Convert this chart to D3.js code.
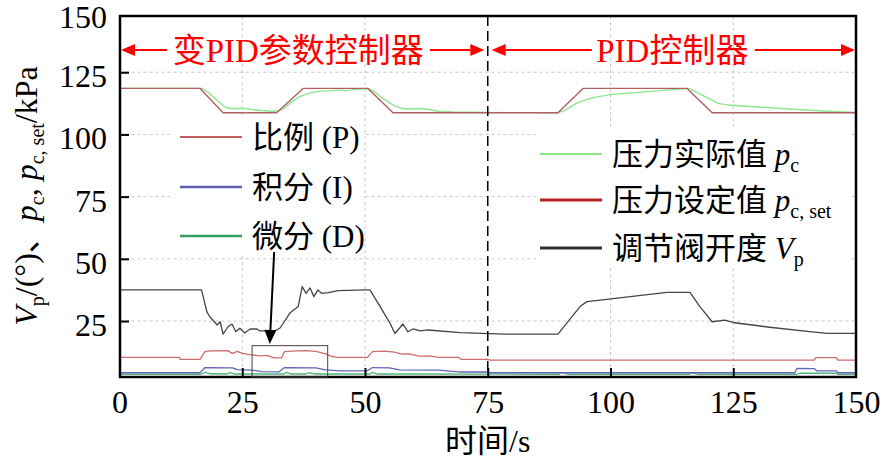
<!DOCTYPE html>
<html><head><meta charset="utf-8">
<script src="https://cdn.jsdelivr.net/npm/d3@7"></script>
<style>
html,body{margin:0;padding:0;background:#fff;}
svg{display:block;}
text{font-family:'Liberation Serif','Times New Roman','Noto Sans CJK SC',serif;}
</style></head>
<body><svg id="c" width="886" height="471"></svg>
<script>
// ---------- data ----------
const xTickVals = [0, 25, 50, 75, 100, 125, 150];
const yTickVals = [25, 50, 75, 100, 125, 150];
const xGrid = [25, 50, 100, 125];
const yGrid = [25, 50, 75, 100, 125];

const setT = [0, 16.4, 21.1, 32.0, 37.4, 50.6, 55.7, 89.3, 94.4, 115.6, 120.7, 150];
const setV = [118.5, 118.5, 108.7, 108.7, 118.5, 118.5, 108.7, 108.7, 118.5, 118.5, 108.7, 108.7];

const pcT = [0, 16.8, 18, 20, 21.5, 23, 25, 27, 29, 31, 32.5, 33.5, 35, 36.5, 38, 39.5, 41, 43, 45, 46, 48, 50.8, 52, 54, 56, 57.5, 59, 61, 63, 65, 68, 75, 89.3, 91, 93, 95, 97, 100, 105, 110, 114, 116, 118, 120, 122, 124, 130, 138, 145, 150];
const pcV = [118.5, 118.5, 117, 113.5, 111, 110.3, 110.5, 110, 109.6, 109.3, 109.5, 110.5, 113, 115, 116.2, 117, 117.4, 117.6, 117.9, 117.5, 118.1, 118.4, 117, 114, 111.5, 110.5, 110.2, 110.4, 110, 109.3, 109, 108.8, 108.7, 110, 112.5, 114, 115, 116, 116.8, 117.6, 118.2, 118.5, 116.5, 114.5, 112.5, 111.8, 111, 110, 109.2, 108.8];

const vpT = [0, 16.7, 17.8, 18.4, 19.0, 19.9, 20.5, 21.1, 22.1, 22.9, 23.7, 24.5, 25.5, 26.6, 28.0, 28.6, 31.7, 32.7, 34.7, 36.4, 37.2, 38.0, 38.8, 39.6, 40.4, 41.2, 42.5, 44.5, 50.4, 51.0, 53.1, 54.1, 55.1, 56.1, 57.1, 57.7, 58.7, 59.8, 61.2, 62.8, 69.4, 78.5, 89.3, 93.8, 95.2, 97.9, 104.0, 111.5, 116.2, 118.2, 120.7, 123.3, 125.3, 132.4, 140.6, 144.1, 150];
const vpV = [37.5, 37.5, 28.7, 26.7, 25.4, 23.4, 24.7, 19.7, 22.7, 23.8, 20.7, 22.1, 20.2, 21.8, 21.8, 21.0, 21.0, 22.2, 28.2, 30.8, 38.8, 36.1, 38.3, 34.8, 37.5, 36.1, 36.4, 37.2, 37.5, 37.5, 30.8, 27.4, 24.1, 20.0, 22.3, 23.8, 20.7, 21.8, 21.0, 21.4, 20.3, 19.7, 19.7, 30.8, 32.8, 33.4, 34.8, 36.5, 36.5, 30.8, 24.7, 25.4, 24.3, 22.5, 20.7, 20.0, 20.0];

const pT = [0, 12.2, 12.3, 16.4, 17.4, 18.5, 22, 23, 24, 25, 26.5, 27.5, 28.5, 30, 31.5, 33, 33.6, 36, 38, 40, 41, 42, 43, 44.5, 50.5, 51.5, 54, 56, 57.5, 59, 61, 63, 65, 69, 69.5, 75, 75.5, 141.5, 141.8, 146, 146.3, 150];
const pV = [10.4, 10.4, 9.6, 9.6, 12.7, 13.0, 13.1, 12.0, 12.8, 12.0, 11.5, 11.3, 11.0, 11.2, 10.2, 10.2, 12.7, 13.0, 13.1, 12.8, 12.3, 11.8, 10.9, 10.4, 10.4, 12.7, 12.9, 12.5, 11.7, 11.8, 10.9, 11.0, 10.4, 10.4, 9.6, 9.6, 9.3, 9.3, 10.3, 10.3, 9.3, 9.3];

const iT = [0, 16.4, 17.4, 23, 24, 27, 29, 32.5, 33.6, 40, 42, 45, 50.5, 51.5, 55, 57, 65, 69.5, 75, 75.5, 137.5, 138, 141.5, 142, 146, 146.3, 150];
const iV = [4.2, 4.2, 6.3, 6.2, 5.5, 5.3, 4.7, 4.6, 6.3, 6.2, 5.4, 5.0, 5.0, 6.3, 6.2, 5.4, 5.3, 4.5, 4.5, 4.2, 4.2, 6.0, 5.9, 5.0, 5.0, 4.2, 4.2];

const dT = [0, 16.5, 17.5, 18.5, 22, 22.5, 23.5, 33.5, 34, 35, 38, 38.5, 40, 51, 51.5, 52.5, 89.5, 90, 91.5, 116, 116.5, 118, 138, 138.5, 146, 146.3, 150];
const dV = [3.6, 3.6, 4.4, 3.8, 3.7, 4.3, 3.7, 3.7, 4.4, 3.7, 3.7, 4.2, 3.7, 3.7, 4.4, 3.7, 3.6, 4.3, 3.6, 3.6, 4.3, 3.6, 3.6, 4.0, 4.0, 3.6, 3.6];

const legendLeft = ["比例 (P)", "积分 (I)", "微分 (D)"];
const titleLeft = "变PID参数控制器";
const titleRight = "PID控制器";
const xLabel = "时间/s";

// ---------- chart ----------
const svg = d3.select("#c");
const x = d3.scaleLinear().domain([0, 150]).range([119.5, 856]);
const y = d3.scaleLinear().domain([2.5, 147.6]).range([377, 16]);
const x0 = x(0), x1 = x(150), yTop = y(147.6), yBot = y(2.5);

// grid
const g = svg.append("g");
g.selectAll(".gx").data(xGrid).enter().append("line")
  .attr("x1", d => x(d)).attr("x2", d => x(d)).attr("y1", yTop).attr("y2", yBot)
  .attr("stroke", "#c8c8c8").attr("stroke-width", 1).attr("stroke-dasharray", "3,3");
g.selectAll(".gy").data(yGrid).enter().append("line")
  .attr("y1", d => y(d)).attr("y2", d => y(d)).attr("x1", x0).attr("x2", x1)
  .attr("stroke", "#c8c8c8").attr("stroke-width", 1).attr("stroke-dasharray", "3,3");

// legend backgrounds
svg.append("rect").attr("x", 170).attr("y", 118).attr("width", 192).attr("height", 136).attr("fill", "#fff");
svg.append("rect").attr("x", 537).attr("y", 128).attr("width", 313).attr("height", 137).attr("fill", "#fff");

// lines
const line = d3.line().x(d => x(d[0])).y(d => y(d[1]));
function drawSeries(T, V, color, w) {
  svg.append("path").datum(T.map((t, i) => [t, V[i]]))
    .attr("d", line).attr("fill", "none").attr("stroke", color)
    .attr("stroke-width", w).attr("stroke-linejoin", "round");
}
drawSeries(dT, dV, "#4cb478", 1.3);
drawSeries(iT, iV, "#6464b8", 1.3);
drawSeries(pT, pV, "#cc6e6e", 1.3);
drawSeries(vpT, vpV, "#454545", 1.3);
drawSeries(pcT, pcV, "#8ee68e", 1.4);
drawSeries(setT, setV, "#b06060", 1.4);

// dashed divider
svg.append("line").attr("x1", x(75)).attr("x2", x(75)).attr("y1", yTop).attr("y2", yBot)
  .attr("stroke", "#000").attr("stroke-width", 1.5).attr("stroke-dasharray", "10,5");

// axes
const xAxis = d3.axisBottom(x).tickValues(xTickVals).tickSizeInner(-9).tickSizeOuter(0).tickPadding(13);
const gx = svg.append("g").attr("transform", `translate(0,${yBot})`).call(xAxis);
gx.select(".domain").remove();
gx.selectAll("line").attr("stroke", "#000").attr("stroke-width", 2)
  .attr("display", d => (d === 0 || d === 150) ? "none" : null);
gx.selectAll("text").attr("font-size", 32).attr("fill", "#000")
  .style("font-family", "'Liberation Serif','Times New Roman',serif");

const yAxis = d3.axisLeft(y).tickValues(yTickVals).tickSizeInner(-9).tickSizeOuter(0).tickPadding(13);
const gy = svg.append("g").attr("transform", `translate(${x0 + 0.5},0)`).call(yAxis);
gy.select(".domain").remove();
gy.selectAll("line").attr("stroke", "#000").attr("stroke-width", 2)
  .attr("display", d => d === 150 ? "none" : null);
gy.selectAll("text").attr("font-size", 32).attr("fill", "#000")
  .attr("dy", d => d === 150 ? "0.56em" : "0.45em")
  .style("font-family", "'Liberation Serif','Times New Roman',serif");

// frame
svg.append("rect").attr("x", x0 + 0.5).attr("y", yTop).attr("width", x1 - x0 - 0.5).attr("height", yBot - yTop)
  .attr("fill", "none").attr("stroke", "#000").attr("stroke-width", 2.5);

// arrow helper
function arrow(px1, py1, px2, py2, color, w, len, half) {
  const dx = px2 - px1, dy = py2 - py1, L = Math.hypot(dx, dy);
  const ux = dx / L, uy = dy / L;
  const bx = px2 - ux * len, by = py2 - uy * len;
  svg.append("line").attr("x1", px1).attr("y1", py1).attr("x2", bx).attr("y2", by)
    .attr("stroke", color).attr("stroke-width", w);
  svg.append("polygon").attr("points",
    [[px2, py2], [bx - uy * half, by + ux * half], [bx + uy * half, by - ux * half]].map(p => p.join(",")).join(" "))
    .attr("fill", color);
}

// red annotations
const annY = y(133.9);
arrow(x(9.7), annY, x(0.3), annY, "#ff0000", 2, 14, 6);
arrow(x(63.2), annY, x(74.3), annY, "#ff0000", 2, 14, 6);
arrow(x(96.2), annY, x(75.8), annY, "#ff0000", 2, 14, 6);
arrow(x(129.4), annY, x(149.8), annY, "#ff0000", 2, 14, 6);
svg.append("text").attr("x", x(36.4)).attr("y", annY).attr("dy", "0.36em")
  .attr("text-anchor", "middle").attr("font-size", 33).attr("fill", "#ff0000").text(titleLeft);
svg.append("text").attr("x", x(112.6)).attr("y", annY).attr("dy", "0.36em")
  .attr("text-anchor", "middle").attr("font-size", 33).attr("fill", "#ff0000").text(titleRight);

// zoom box + pointer arrow
svg.append("rect").attr("x", x(27.0)).attr("y", y(15.1)).attr("width", x(42.4) - x(27.0)).attr("height", yBot - y(15.1))
  .attr("fill", "none").attr("stroke", "#444").attr("stroke-width", 1);
arrow(x(31.5), y(52.7), x(30.6), y(15.8), "#000", 2, 14, 6);

// left legend
const legL = [
  { label: legendLeft[0], color: "#c06060", w: 2, ly: 137 },
  { label: legendLeft[1], color: "#6060b0", w: 2.5, ly: 187 },
  { label: legendLeft[2], color: "#30a060", w: 2.5, ly: 236 }
];
legL.forEach(d => {
  svg.append("line").attr("x1", 180).attr("x2", 242).attr("y1", d.ly).attr("y2", d.ly)
    .attr("stroke", d.color).attr("stroke-width", d.w);
  svg.append("text").attr("x", 252).attr("y", d.ly).attr("dy", "0.36em").attr("font-size", 31)
    .attr("fill", "#000").text(d.label);
});

// right legend
const legR = [
  { main: "压力实际值 ", sym: "p", sub: "c", color: "#88e888", w: 2, ly: 154 },
  { main: "压力设定值 ", sym: "p", sub: "c, set", color: "#b82020", w: 3, ly: 200 },
  { main: "调节阀开度 ", sym: "V", sub: "p", color: "#333333", w: 3, ly: 248 }
];
legR.forEach(d => {
  svg.append("line").attr("x1", 540).attr("x2", 602).attr("y1", d.ly).attr("y2", d.ly)
    .attr("stroke", d.color).attr("stroke-width", d.w);
  const t = svg.append("text").attr("x", 612).attr("y", d.ly).attr("dy", "0.36em").attr("font-size", 31).attr("fill", "#000");
  t.append("tspan").text(d.main);
  t.append("tspan").attr("font-style", "italic").text(d.sym);
  t.append("tspan").attr("font-size", 20).attr("dy", 7).text(d.sub);
});

// axis titles
svg.append("text").attr("x", x(75)).attr("y", 452).attr("text-anchor", "middle")
  .attr("font-size", 32).attr("fill", "#000").text(xLabel);

const yl = svg.append("text").attr("transform", "translate(37,196) rotate(-90)")
  .attr("text-anchor", "middle").attr("font-size", 32).attr("fill", "#000");
yl.append("tspan").attr("font-style", "italic").text("V");
yl.append("tspan").attr("font-size", 20).attr("dy", 7).text("p");
yl.append("tspan").attr("dy", -7).text("/(°)、");
yl.append("tspan").attr("font-style", "italic").text("p");
yl.append("tspan").attr("font-size", 20).attr("dy", 7).text("c");
yl.append("tspan").attr("dy", -7).text(", ");
yl.append("tspan").attr("font-style", "italic").text("p");
yl.append("tspan").attr("font-size", 20).attr("dy", 7).text("c, set");
yl.append("tspan").attr("dy", -7).text("/kPa");
</script>
</body></html>
